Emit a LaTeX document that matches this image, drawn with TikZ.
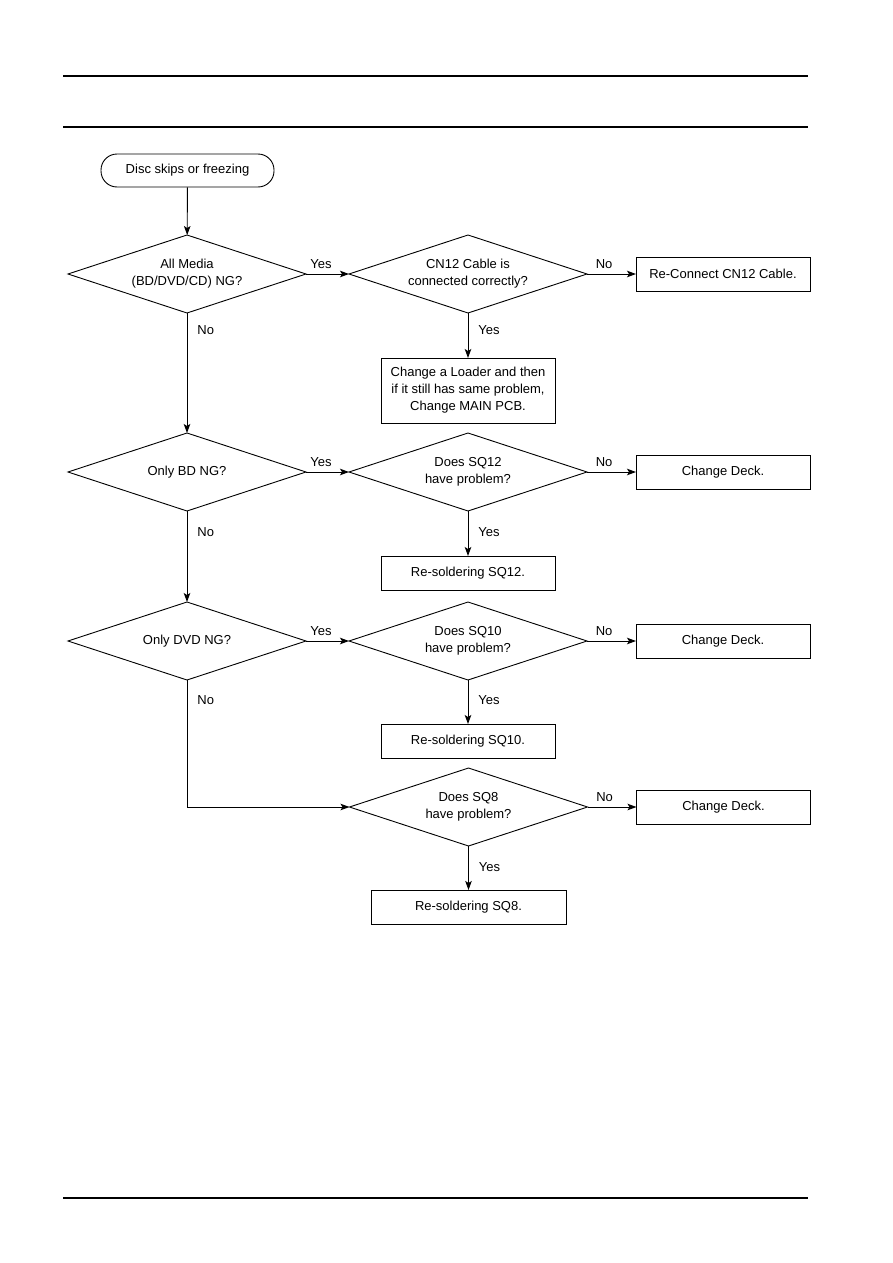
\documentclass[tikz,border=0pt]{standalone}
\usepackage{fontspec}
\setmainfont{Liberation Sans}
\usepackage{tikz}
\usetikzlibrary{
  shapes.geometric,
  arrows.meta,
  positioning
}
\tikzset{
  startbox/.style={
    rectangle, draw, rounded corners=16pt,
    minimum width=173pt, minimum height=33pt,
    font=\fontsize{13}{17}\selectfont, align=center, line width=0.9pt
  },
  decision/.style={
    diamond, draw, aspect=3.05, inner sep=1pt, outer sep=0pt,
    minimum width=238pt, minimum height=78pt,
    font=\fontsize{13}{17}\selectfont, align=center, line width=0.9pt
  },
  action/.style={
    rectangle, draw, outer sep=0pt,
    minimum width=174pt, minimum height=34pt,
    font=\fontsize{13}{17}\selectfont, align=center, line width=0.9pt
  },
  arrow/.style={-{Stealth[length=9pt,width=6.5pt,inset=2pt]}, line width=0.9pt},
  lbl/.style={font=\fontsize{13}{15}\selectfont, inner sep=0pt},
  rule/.style={line width=1.2pt},
}
\begin{document}
\begin{tikzpicture}[x=1pt, y=-1pt]
\useasboundingbox (0,0) rectangle (893,1263);

% page rules
\draw[rule] (63,76) -- (808,76);
\draw[rule] (63,127) -- (808,127);
\draw[rule] (63,1198) -- (808,1198);

\node[startbox] (start) at (187.5,170.5) {Disc skips or freezing};

% row 1
\node[decision] (allmedia) at (187,274) {All Media\\(BD/DVD/CD) NG?};
\node[decision, right=43pt of allmedia] (cable) {CN12 Cable is\\connected correctly?};
\node[action, right=49pt of cable] (reconnect) {Re-Connect CN12 Cable.};
\node[action, below=45pt of cable, minimum height=65pt] (loader) {Change a Loader and then\\if it still has same problem,\\Change MAIN PCB.};

% row 2
\node[decision] (onlybd) at (187,472) {Only BD NG?};
\node[decision, right=43pt of onlybd] (sqtwelve) {Does SQ12\\have problem?};
\node[action, right=49pt of sqtwelve] (deckA) {Change Deck.};
\node[action, below=45pt of sqtwelve] (fixtwelve) {Re-soldering SQ12.};

% row 3
\node[decision] (onlydvd) at (187,641) {Only DVD NG?};
\node[decision, right=43pt of onlydvd] (sqten) {Does SQ10\\have problem?};
\node[action, right=49pt of sqten] (deckB) {Change Deck.};
\node[action, below=44pt of sqten] (fixten) {Re-soldering SQ10.};

% row 4
\node[decision] (sqeight) at (468.5,807) {Does SQ8\\have problem?};
\node[action, right=49pt of sqeight] (deckC) {Change Deck.};
\node[action, below=44pt of sqeight, minimum width=195pt] (fixeight) {Re-soldering SQ8.};

\draw[arrow] (start) -- (allmedia);
\draw[arrow] (allmedia) -- node[lbl, above=5pt, pos=0.35]{Yes} (cable);
\draw[arrow] (cable) -- node[lbl, above=5pt, pos=0.35]{No} (reconnect);
\draw[arrow] (cable) -- node[lbl, right=10pt, pos=0.38]{Yes} (loader);
\draw[arrow] (allmedia) -- node[lbl, right=10pt, pos=0.14]{No} (onlybd);

\draw[arrow] (onlybd) -- node[lbl, above=5pt, pos=0.35]{Yes} (sqtwelve);
\draw[arrow] (sqtwelve) -- node[lbl, above=5pt, pos=0.35]{No} (deckA);
\draw[arrow] (sqtwelve) -- node[lbl, right=10pt, pos=0.47]{Yes} (fixtwelve);
\draw[arrow] (onlybd) -- node[lbl, right=10pt, pos=0.23]{No} (onlydvd);

\draw[arrow] (onlydvd) -- node[lbl, above=5pt, pos=0.35]{Yes} (sqten);
\draw[arrow] (sqten) -- node[lbl, above=5pt, pos=0.35]{No} (deckB);
\draw[arrow] (sqten) -- node[lbl, right=10pt, pos=0.45]{Yes} (fixten);
\draw[arrow] (onlydvd.south) |- node[lbl, right=10pt, pos=0.08]{No} (sqeight.west);

\draw[arrow] (sqeight) -- node[lbl, above=5pt, pos=0.35]{No} (deckC);
\draw[arrow] (sqeight) -- node[lbl, right=10pt, pos=0.48]{Yes} (fixeight);

\end{tikzpicture}
\end{document}
